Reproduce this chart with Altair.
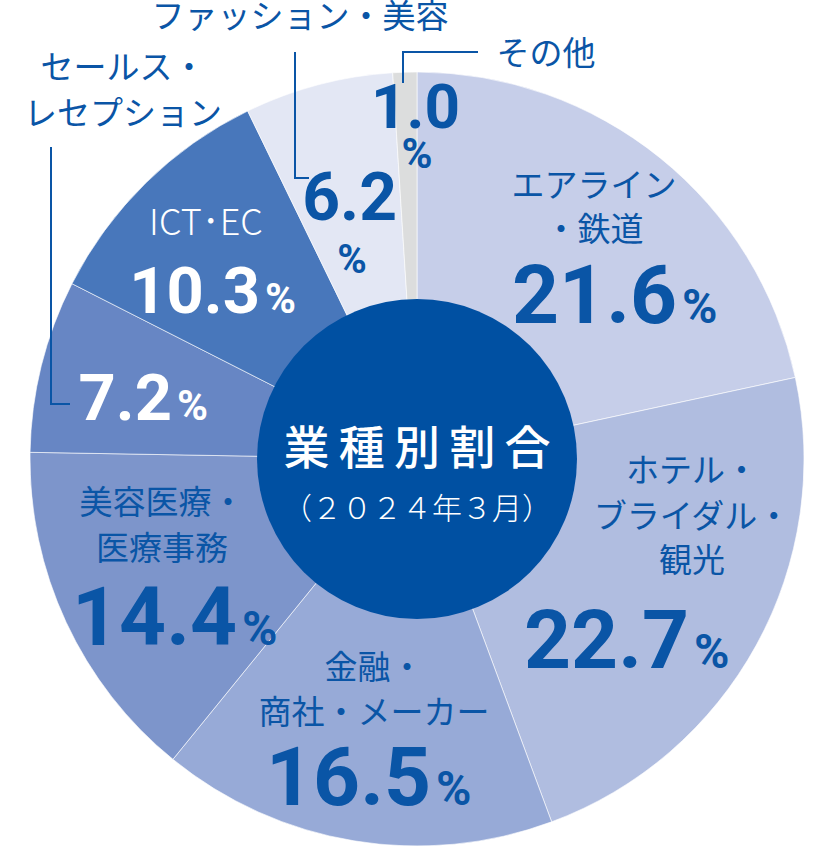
import altair as alt
import pandas as pd

# ---- data ----
categories = ["エアライン・鉄道", "ホテル・ブライダル・観光", "金融・商社・メーカー",
              "美容医療・医療事務", "セールス・レセプション", "ICT・EC",
              "ファッション・美容", "その他"]
shares = [21.6, 22.7, 16.5, 14.4, 7.2, 10.3, 6.2, 1.0]
share_labels = ["21.6", "22.7", "16.5", "14.4", "7.2", "10.3", "6.2", "1.0"]
slice_colors = ["#c6cee9", "#b0bde0", "#97aad7", "#7d95cb", "#6786c4",
                "#4877bb", "#e3e7f4", "#dcdddd"]

title_main = "業\u2009種\u2009別\u2009割\u2009合"
title_sub = "（２０２４年３月）"

df = pd.DataFrame({"category": categories, "share": shares,
                   "order": list(range(len(categories)))})

# ---- style / layout ----
W, H = 828, 851
CX, CY = 417, 459
R_OUT, R_IN = 387, 160
BLUE = "#0a55a6"
DARK = "#0050a2"
JP = "Noto Sans CJK JP"
NUM = "Roboto"
one = pd.DataFrame({"k": [0]})

pie = alt.Chart(df).mark_arc(
    outerRadius=R_OUT, stroke="#ffffff", strokeWidth=1, strokeOpacity=0.6
).encode(
    theta=alt.Theta("share:Q", stack=True),
    color=alt.Color("category:N", scale=alt.Scale(domain=categories, range=slice_colors), legend=None),
    order=alt.Order("order:Q", sort="ascending"),
    x=alt.value(CX), y=alt.value(CY),
)

hole = alt.Chart(one).mark_arc(radius=R_IN, theta=0, theta2=6.2832, color=DARK).encode(
    x=alt.value(CX), y=alt.value(CY))


def txt(s, x, y, size, color=BLUE, align="center", baseline="middle",
        font=JP, weight="normal"):
    return alt.Chart(one).mark_text(
        text=s, fontSize=size, color=color, align=align, baseline=baseline,
        font=font, fontWeight=weight,
    ).encode(x=alt.value(x), y=alt.value(y))


def rule(x1, y1, x2, y2):
    return alt.Chart(one).mark_rule(color=BLUE, strokeWidth=2).encode(
        x=alt.value(x1), y=alt.value(y1), x2=alt.value(x2), y2=alt.value(y2))


NAME = 33
BIG, BIGP = 82, 48
MID, MIDP = 65, 42

layers = [pie, hole,
          txt(title_main, CX, 450, 46, color="white", weight=500),
          txt(title_sub, CX, 510, 30, color="white", weight=300)]

# name labels
name_lines = [
    (["エアライン", "・鉄道"], 594, [187, 231], BLUE),
    (["ホテル・", "ブライダル・", "観光"], 692, [472, 518, 562], BLUE),
    (["金融・", "商社・メーカー"], 374, [669, 714], BLUE),
    (["美容医療・", "医療事務"], 162, [504, 550], BLUE),
    (["セールス・", "レセプション"], 123, [69, 115], BLUE),
    (["ファッション・美容"], 300, [18], BLUE),
    (["その他"], 546, [55], BLUE),
]
for lines, x, ys, c in name_lines:
    for s, y in zip(lines, ys):
        layers.append(txt(s, x, y, NAME, color=c))
layers.append(txt("ICT\uff65EC", 206, 224, 36, color="white", weight=300))

# value labels: (index, right x, baseline y, size, color)
nums = [
    (0, 677, 323, BIG, BLUE), (1, 689, 668, BIG, BLUE), (2, 431, 805, BIG, BLUE),
    (3, 237, 645, BIG, BLUE), (4, 172, 420, MID, "white"), (5, 260, 313, MID, "white"),
    (6, 397, 220, 66, BLUE), (7, 460, 128, 62, BLUE),
]
for i, x, y, size, c in nums:
    layers.append(txt(share_labels[i], x, y, size, color=c, align="right",
                      baseline="alphabetic", font=NUM, weight="bold"))
    if i in (6, 7):
        continue
    psize = BIGP if size == BIG else MIDP
    layers.append(txt("%", x + 5, y, psize, color=c, align="left",
                      baseline="alphabetic", font=NUM, weight="bold"))
layers.append(txt("%", 352, 273, 40, align="center", baseline="alphabetic", font=NUM, weight="bold"))
layers.append(txt("%", 417, 168, 42, align="center", baseline="alphabetic", font=NUM, weight="bold"))

# leader lines
layers += [
    rule(51, 147, 51, 404), rule(50, 404, 70, 404),
    rule(295, 52, 295, 178), rule(294, 178, 309, 178),
    rule(403, 52, 478, 52), rule(403, 51, 403, 83),
]

chart = alt.layer(*layers).properties(
    width=W, height=H, autosize=alt.AutoSizeParams(type="none"), padding=0
).configure_view(stroke=None)

chart.save("out.html", embed_options={"renderer": "svg", "actions": False})
